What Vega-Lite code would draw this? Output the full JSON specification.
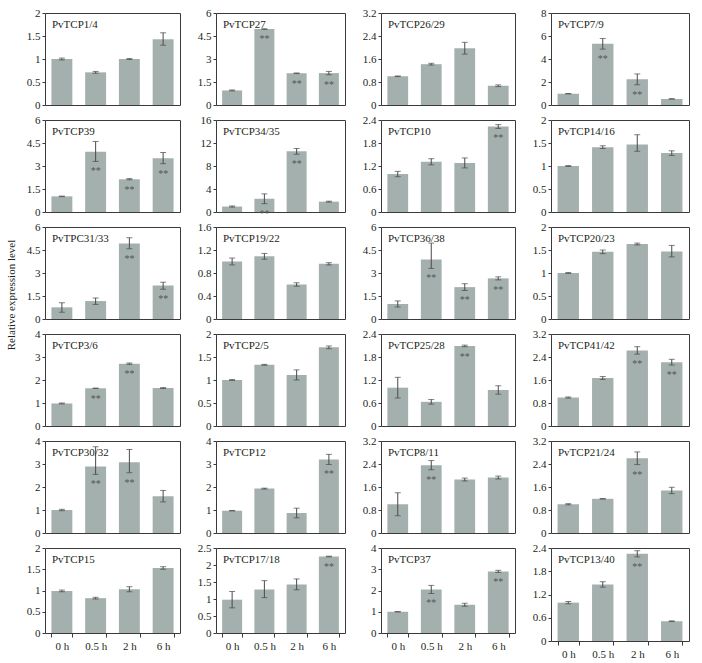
{
"$schema": "https://vega.github.io/schema/vega-lite/v6.json",
"background": "white",
"padding": {"left": 5, "top": 6, "right": 5, "bottom": 5},
"title": {"text": "Relative expression level", "orient": "left", "anchor": "middle", "frame": "bounds", "offset": 9, "dx": 38, "dy": 0, "fontSize": 11, "font": "Liberation Serif", "fontWeight": "normal", "color": "#231f20"},
"datasets": {"expr": [
{"gene":"PvTCP1/4","time":"0 h","value":1.00,"lo":0.98,"hi":1.02,"sig":""},
{"gene":"PvTCP1/4","time":"0.5 h","value":0.71,"lo":0.69,"hi":0.73,"sig":""},
{"gene":"PvTCP1/4","time":"2 h","value":1.00,"lo":0.99,"hi":1.01,"sig":""},
{"gene":"PvTCP1/4","time":"6 h","value":1.43,"lo":1.30,"hi":1.57,"sig":""},
{"gene":"PvTCP27","time":"0 h","value":0.95,"lo":0.92,"hi":0.98,"sig":""},
{"gene":"PvTCP27","time":"0.5 h","value":4.95,"lo":4.93,"hi":4.97,"sig":"**"},
{"gene":"PvTCP27","time":"2 h","value":2.07,"lo":2.05,"hi":2.09,"sig":"**"},
{"gene":"PvTCP27","time":"6 h","value":2.08,"lo":1.97,"hi":2.19,"sig":"**"},
{"gene":"PvTCP26/29","time":"0 h","value":1.00,"lo":0.99,"hi":1.01,"sig":""},
{"gene":"PvTCP26/29","time":"0.5 h","value":1.42,"lo":1.39,"hi":1.45,"sig":""},
{"gene":"PvTCP26/29","time":"2 h","value":1.97,"lo":1.77,"hi":2.18,"sig":""},
{"gene":"PvTCP26/29","time":"6 h","value":0.67,"lo":0.64,"hi":0.70,"sig":""},
{"gene":"PvTCP7/9","time":"0 h","value":0.98,"lo":0.96,"hi":1.00,"sig":""},
{"gene":"PvTCP7/9","time":"0.5 h","value":5.32,"lo":4.86,"hi":5.78,"sig":"**"},
{"gene":"PvTCP7/9","time":"2 h","value":2.24,"lo":1.76,"hi":2.70,"sig":"**"},
{"gene":"PvTCP7/9","time":"6 h","value":0.53,"lo":0.51,"hi":0.55,"sig":""},
{"gene":"PvTCP39","time":"0 h","value":1.02,"lo":1.00,"hi":1.04,"sig":""},
{"gene":"PvTCP39","time":"0.5 h","value":3.93,"lo":3.30,"hi":4.60,"sig":"**"},
{"gene":"PvTCP39","time":"2 h","value":2.14,"lo":2.10,"hi":2.18,"sig":"**"},
{"gene":"PvTCP39","time":"6 h","value":3.50,"lo":3.15,"hi":3.88,"sig":"**"},
{"gene":"PvTCP34/35","time":"0 h","value":0.95,"lo":0.85,"hi":1.05,"sig":""},
{"gene":"PvTCP34/35","time":"0.5 h","value":2.30,"lo":1.45,"hi":3.15,"sig":"**"},
{"gene":"PvTCP34/35","time":"2 h","value":10.55,"lo":10.05,"hi":11.05,"sig":"**"},
{"gene":"PvTCP34/35","time":"6 h","value":1.80,"lo":1.72,"hi":1.88,"sig":""},
{"gene":"PvTCP10","time":"0 h","value":0.99,"lo":0.92,"hi":1.06,"sig":""},
{"gene":"PvTCP10","time":"0.5 h","value":1.31,"lo":1.23,"hi":1.39,"sig":""},
{"gene":"PvTCP10","time":"2 h","value":1.28,"lo":1.15,"hi":1.41,"sig":""},
{"gene":"PvTCP10","time":"6 h","value":2.23,"lo":2.18,"hi":2.28,"sig":"**"},
{"gene":"PvTCP14/16","time":"0 h","value":1.00,"lo":0.99,"hi":1.01,"sig":""},
{"gene":"PvTCP14/16","time":"0.5 h","value":1.41,"lo":1.38,"hi":1.44,"sig":""},
{"gene":"PvTCP14/16","time":"2 h","value":1.47,"lo":1.32,"hi":1.68,"sig":""},
{"gene":"PvTCP14/16","time":"6 h","value":1.28,"lo":1.23,"hi":1.33,"sig":""},
{"gene":"PvTPC31/33","time":"0 h","value":0.76,"lo":0.44,"hi":1.06,"sig":""},
{"gene":"PvTPC31/33","time":"0.5 h","value":1.17,"lo":0.95,"hi":1.37,"sig":""},
{"gene":"PvTPC31/33","time":"2 h","value":4.92,"lo":4.58,"hi":5.30,"sig":"**"},
{"gene":"PvTPC31/33","time":"6 h","value":2.18,"lo":1.94,"hi":2.40,"sig":"**"},
{"gene":"PvTCP19/22","time":"0 h","value":1.00,"lo":0.94,"hi":1.06,"sig":""},
{"gene":"PvTCP19/22","time":"0.5 h","value":1.09,"lo":1.04,"hi":1.14,"sig":""},
{"gene":"PvTCP19/22","time":"2 h","value":0.60,"lo":0.57,"hi":0.63,"sig":""},
{"gene":"PvTCP19/22","time":"6 h","value":0.96,"lo":0.94,"hi":0.98,"sig":""},
{"gene":"PvTCP36/38","time":"0 h","value":0.98,"lo":0.78,"hi":1.18,"sig":""},
{"gene":"PvTCP36/38","time":"0.5 h","value":3.88,"lo":3.30,"hi":4.95,"sig":"**"},
{"gene":"PvTCP36/38","time":"2 h","value":2.08,"lo":1.86,"hi":2.30,"sig":"**"},
{"gene":"PvTCP36/38","time":"6 h","value":2.65,"lo":2.55,"hi":2.75,"sig":"**"},
{"gene":"PvTCP20/23","time":"0 h","value":1.00,"lo":0.99,"hi":1.01,"sig":""},
{"gene":"PvTCP20/23","time":"0.5 h","value":1.46,"lo":1.42,"hi":1.50,"sig":""},
{"gene":"PvTCP20/23","time":"2 h","value":1.63,"lo":1.61,"hi":1.65,"sig":""},
{"gene":"PvTCP20/23","time":"6 h","value":1.47,"lo":1.35,"hi":1.60,"sig":""},
{"gene":"PvTCP3/6","time":"0 h","value":0.98,"lo":0.96,"hi":1.00,"sig":""},
{"gene":"PvTCP3/6","time":"0.5 h","value":1.64,"lo":1.63,"hi":1.65,"sig":"**"},
{"gene":"PvTCP3/6","time":"2 h","value":2.71,"lo":2.68,"hi":2.74,"sig":"**"},
{"gene":"PvTCP3/6","time":"6 h","value":1.65,"lo":1.63,"hi":1.67,"sig":""},
{"gene":"PvTCP2/5","time":"0 h","value":1.00,"lo":0.99,"hi":1.01,"sig":""},
{"gene":"PvTCP2/5","time":"0.5 h","value":1.33,"lo":1.32,"hi":1.34,"sig":""},
{"gene":"PvTCP2/5","time":"2 h","value":1.11,"lo":1.00,"hi":1.22,"sig":""},
{"gene":"PvTCP2/5","time":"6 h","value":1.71,"lo":1.68,"hi":1.74,"sig":""},
{"gene":"PvTCP25/28","time":"0 h","value":1.00,"lo":0.73,"hi":1.27,"sig":""},
{"gene":"PvTCP25/28","time":"0.5 h","value":0.63,"lo":0.57,"hi":0.69,"sig":""},
{"gene":"PvTCP25/28","time":"2 h","value":2.09,"lo":2.07,"hi":2.11,"sig":"**"},
{"gene":"PvTCP25/28","time":"6 h","value":0.94,"lo":0.83,"hi":1.05,"sig":""},
{"gene":"PvTCP41/42","time":"0 h","value":0.99,"lo":0.97,"hi":1.01,"sig":""},
{"gene":"PvTCP41/42","time":"0.5 h","value":1.67,"lo":1.62,"hi":1.72,"sig":""},
{"gene":"PvTCP41/42","time":"2 h","value":2.63,"lo":2.50,"hi":2.76,"sig":"**"},
{"gene":"PvTCP41/42","time":"6 h","value":2.22,"lo":2.12,"hi":2.32,"sig":"**"},
{"gene":"PvTCP30/32","time":"0 h","value":1.00,"lo":0.97,"hi":1.03,"sig":""},
{"gene":"PvTCP30/32","time":"0.5 h","value":2.89,"lo":2.55,"hi":3.75,"sig":"**"},
{"gene":"PvTCP30/32","time":"2 h","value":3.08,"lo":2.62,"hi":3.63,"sig":"**"},
{"gene":"PvTCP30/32","time":"6 h","value":1.60,"lo":1.35,"hi":1.85,"sig":""},
{"gene":"PvTCP12","time":"0 h","value":0.97,"lo":0.96,"hi":0.98,"sig":""},
{"gene":"PvTCP12","time":"0.5 h","value":1.93,"lo":1.91,"hi":1.95,"sig":""},
{"gene":"PvTCP12","time":"2 h","value":0.87,"lo":0.66,"hi":1.08,"sig":""},
{"gene":"PvTCP12","time":"6 h","value":3.20,"lo":2.98,"hi":3.42,"sig":"**"},
{"gene":"PvTCP8/11","time":"0 h","value":1.00,"lo":0.60,"hi":1.40,"sig":""},
{"gene":"PvTCP8/11","time":"0.5 h","value":2.36,"lo":2.20,"hi":2.52,"sig":"**"},
{"gene":"PvTCP8/11","time":"2 h","value":1.86,"lo":1.81,"hi":1.91,"sig":""},
{"gene":"PvTCP8/11","time":"6 h","value":1.93,"lo":1.88,"hi":1.98,"sig":""},
{"gene":"PvTCP21/24","time":"0 h","value":1.00,"lo":0.98,"hi":1.02,"sig":""},
{"gene":"PvTCP21/24","time":"0.5 h","value":1.19,"lo":1.18,"hi":1.20,"sig":""},
{"gene":"PvTCP21/24","time":"2 h","value":2.60,"lo":2.38,"hi":2.82,"sig":"**"},
{"gene":"PvTCP21/24","time":"6 h","value":1.48,"lo":1.37,"hi":1.59,"sig":""},
{"gene":"PvTCP15","time":"0 h","value":0.99,"lo":0.97,"hi":1.01,"sig":""},
{"gene":"PvTCP15","time":"0.5 h","value":0.82,"lo":0.80,"hi":0.84,"sig":""},
{"gene":"PvTCP15","time":"2 h","value":1.03,"lo":0.97,"hi":1.09,"sig":""},
{"gene":"PvTCP15","time":"6 h","value":1.53,"lo":1.50,"hi":1.56,"sig":""},
{"gene":"PvTCP17/18","time":"0 h","value":0.98,"lo":0.74,"hi":1.22,"sig":""},
{"gene":"PvTCP17/18","time":"0.5 h","value":1.28,"lo":1.04,"hi":1.54,"sig":""},
{"gene":"PvTCP17/18","time":"2 h","value":1.43,"lo":1.27,"hi":1.59,"sig":""},
{"gene":"PvTCP17/18","time":"6 h","value":2.25,"lo":2.24,"hi":2.26,"sig":"**"},
{"gene":"PvTCP37","time":"0 h","value":1.00,"lo":0.99,"hi":1.01,"sig":""},
{"gene":"PvTCP37","time":"0.5 h","value":2.05,"lo":1.86,"hi":2.24,"sig":"**"},
{"gene":"PvTCP37","time":"2 h","value":1.33,"lo":1.26,"hi":1.40,"sig":""},
{"gene":"PvTCP37","time":"6 h","value":2.90,"lo":2.85,"hi":2.95,"sig":"**"},
{"gene":"PvTCP13/40","time":"0 h","value":0.99,"lo":0.96,"hi":1.02,"sig":""},
{"gene":"PvTCP13/40","time":"0.5 h","value":1.46,"lo":1.39,"hi":1.53,"sig":""},
{"gene":"PvTCP13/40","time":"2 h","value":2.25,"lo":2.17,"hi":2.33,"sig":"**"},
{"gene":"PvTCP13/40","time":"6 h","value":0.51,"lo":0.50,"hi":0.52,"sig":""}
]},
"data": {"name": "expr"},
"columns": 4,
"spacing": {"row": 15, "column": 36},
"bounds": "flush",
"concat": [
{"width":135,"height":92,"title":{"text":"PvTCP1/4"},"transform":[{"filter":{"field":"gene","equal":"PvTCP1/4"}}],"encoding":{"x":{"field":"time","type":"nominal","sort":["0 h","0.5 h","2 h","6 h"],"title":null,"axis":null}},"resolve":{"axis":{"y":"independent"}},"layer":[{"mark":"bar","encoding":{"y":{"field":"value","type":"quantitative","title":null,"scale":{"domain":[0,2],"nice":false},"axis":{"values":[0,0.5,1,1.5,2],"format":".2~f"}}}},{"mark":{"type":"errorbar","ticks":{"size":6},"color":"#4a4a4a"},"encoding":{"y":{"field":"lo","type":"quantitative","title":null,"axis":null},"y2":{"field":"hi"}}},{"mark":"text","encoding":{"y":{"field":"lo","type":"quantitative","title":null,"axis":null},"text":{"field":"sig"}}}]},
{"width":129,"height":92,"title":{"text":"PvTCP27"},"transform":[{"filter":{"field":"gene","equal":"PvTCP27"}}],"encoding":{"x":{"field":"time","type":"nominal","sort":["0 h","0.5 h","2 h","6 h"],"title":null,"axis":null}},"resolve":{"axis":{"y":"independent"}},"layer":[{"mark":"bar","encoding":{"y":{"field":"value","type":"quantitative","title":null,"scale":{"domain":[0,6],"nice":false},"axis":{"values":[0,1.5,3,4.5,6],"format":".2~f"}}}},{"mark":{"type":"errorbar","ticks":{"size":6},"color":"#4a4a4a"},"encoding":{"y":{"field":"lo","type":"quantitative","title":null,"axis":null},"y2":{"field":"hi"}}},{"mark":"text","encoding":{"y":{"field":"lo","type":"quantitative","title":null,"axis":null},"text":{"field":"sig"}}}]},
{"width":134,"height":92,"title":{"text":"PvTCP26/29"},"transform":[{"filter":{"field":"gene","equal":"PvTCP26/29"}}],"encoding":{"x":{"field":"time","type":"nominal","sort":["0 h","0.5 h","2 h","6 h"],"title":null,"axis":null}},"resolve":{"axis":{"y":"independent"}},"layer":[{"mark":"bar","encoding":{"y":{"field":"value","type":"quantitative","title":null,"scale":{"domain":[0,3.2],"nice":false},"axis":{"values":[0,0.8,1.6,2.4,3.2],"format":".2~f"}}}},{"mark":{"type":"errorbar","ticks":{"size":6},"color":"#4a4a4a"},"encoding":{"y":{"field":"lo","type":"quantitative","title":null,"axis":null},"y2":{"field":"hi"}}},{"mark":"text","encoding":{"y":{"field":"lo","type":"quantitative","title":null,"axis":null},"text":{"field":"sig"}}}]},
{"width":138,"height":92,"title":{"text":"PvTCP7/9"},"transform":[{"filter":{"field":"gene","equal":"PvTCP7/9"}}],"encoding":{"x":{"field":"time","type":"nominal","sort":["0 h","0.5 h","2 h","6 h"],"title":null,"axis":null}},"resolve":{"axis":{"y":"independent"}},"layer":[{"mark":"bar","encoding":{"y":{"field":"value","type":"quantitative","title":null,"scale":{"domain":[0,8],"nice":false},"axis":{"values":[0,2,4,6,8],"format":".2~f"}}}},{"mark":{"type":"errorbar","ticks":{"size":6},"color":"#4a4a4a"},"encoding":{"y":{"field":"lo","type":"quantitative","title":null,"axis":null},"y2":{"field":"hi"}}},{"mark":"text","encoding":{"y":{"field":"lo","type":"quantitative","title":null,"axis":null},"text":{"field":"sig"}}}]},
{"width":135,"height":92,"title":{"text":"PvTCP39"},"transform":[{"filter":{"field":"gene","equal":"PvTCP39"}}],"encoding":{"x":{"field":"time","type":"nominal","sort":["0 h","0.5 h","2 h","6 h"],"title":null,"axis":null}},"resolve":{"axis":{"y":"independent"}},"layer":[{"mark":"bar","encoding":{"y":{"field":"value","type":"quantitative","title":null,"scale":{"domain":[0,6],"nice":false},"axis":{"values":[0,1.5,3,4.5,6],"format":".2~f"}}}},{"mark":{"type":"errorbar","ticks":{"size":6},"color":"#4a4a4a"},"encoding":{"y":{"field":"lo","type":"quantitative","title":null,"axis":null},"y2":{"field":"hi"}}},{"mark":"text","encoding":{"y":{"field":"lo","type":"quantitative","title":null,"axis":null},"text":{"field":"sig"}}}]},
{"width":129,"height":92,"title":{"text":"PvTCP34/35"},"transform":[{"filter":{"field":"gene","equal":"PvTCP34/35"}}],"encoding":{"x":{"field":"time","type":"nominal","sort":["0 h","0.5 h","2 h","6 h"],"title":null,"axis":null}},"resolve":{"axis":{"y":"independent"}},"layer":[{"mark":"bar","encoding":{"y":{"field":"value","type":"quantitative","title":null,"scale":{"domain":[0,16],"nice":false},"axis":{"values":[0,4,8,12,16],"format":".2~f"}}}},{"mark":{"type":"errorbar","ticks":{"size":6},"color":"#4a4a4a"},"encoding":{"y":{"field":"lo","type":"quantitative","title":null,"axis":null},"y2":{"field":"hi"}}},{"mark":"text","encoding":{"y":{"field":"lo","type":"quantitative","title":null,"axis":null},"text":{"field":"sig"}}}]},
{"width":134,"height":92,"title":{"text":"PvTCP10"},"transform":[{"filter":{"field":"gene","equal":"PvTCP10"}}],"encoding":{"x":{"field":"time","type":"nominal","sort":["0 h","0.5 h","2 h","6 h"],"title":null,"axis":null}},"resolve":{"axis":{"y":"independent"}},"layer":[{"mark":"bar","encoding":{"y":{"field":"value","type":"quantitative","title":null,"scale":{"domain":[0,2.4],"nice":false},"axis":{"values":[0,0.6,1.2,1.8,2.4],"format":".2~f"}}}},{"mark":{"type":"errorbar","ticks":{"size":6},"color":"#4a4a4a"},"encoding":{"y":{"field":"lo","type":"quantitative","title":null,"axis":null},"y2":{"field":"hi"}}},{"mark":"text","encoding":{"y":{"field":"lo","type":"quantitative","title":null,"axis":null},"text":{"field":"sig"}}}]},
{"width":138,"height":92,"title":{"text":"PvTCP14/16"},"transform":[{"filter":{"field":"gene","equal":"PvTCP14/16"}}],"encoding":{"x":{"field":"time","type":"nominal","sort":["0 h","0.5 h","2 h","6 h"],"title":null,"axis":null}},"resolve":{"axis":{"y":"independent"}},"layer":[{"mark":"bar","encoding":{"y":{"field":"value","type":"quantitative","title":null,"scale":{"domain":[0,2],"nice":false},"axis":{"values":[0,0.5,1,1.5,2],"format":".2~f"}}}},{"mark":{"type":"errorbar","ticks":{"size":6},"color":"#4a4a4a"},"encoding":{"y":{"field":"lo","type":"quantitative","title":null,"axis":null},"y2":{"field":"hi"}}},{"mark":"text","encoding":{"y":{"field":"lo","type":"quantitative","title":null,"axis":null},"text":{"field":"sig"}}}]},
{"width":135,"height":92,"title":{"text":"PvTPC31/33"},"transform":[{"filter":{"field":"gene","equal":"PvTPC31/33"}}],"encoding":{"x":{"field":"time","type":"nominal","sort":["0 h","0.5 h","2 h","6 h"],"title":null,"axis":null}},"resolve":{"axis":{"y":"independent"}},"layer":[{"mark":"bar","encoding":{"y":{"field":"value","type":"quantitative","title":null,"scale":{"domain":[0,6],"nice":false},"axis":{"values":[0,1.5,3,4.5,6],"format":".2~f"}}}},{"mark":{"type":"errorbar","ticks":{"size":6},"color":"#4a4a4a"},"encoding":{"y":{"field":"lo","type":"quantitative","title":null,"axis":null},"y2":{"field":"hi"}}},{"mark":"text","encoding":{"y":{"field":"lo","type":"quantitative","title":null,"axis":null},"text":{"field":"sig"}}}]},
{"width":129,"height":92,"title":{"text":"PvTCP19/22"},"transform":[{"filter":{"field":"gene","equal":"PvTCP19/22"}}],"encoding":{"x":{"field":"time","type":"nominal","sort":["0 h","0.5 h","2 h","6 h"],"title":null,"axis":null}},"resolve":{"axis":{"y":"independent"}},"layer":[{"mark":"bar","encoding":{"y":{"field":"value","type":"quantitative","title":null,"scale":{"domain":[0,1.6],"nice":false},"axis":{"values":[0,0.4,0.8,1.2,1.6],"format":".2~f"}}}},{"mark":{"type":"errorbar","ticks":{"size":6},"color":"#4a4a4a"},"encoding":{"y":{"field":"lo","type":"quantitative","title":null,"axis":null},"y2":{"field":"hi"}}},{"mark":"text","encoding":{"y":{"field":"lo","type":"quantitative","title":null,"axis":null},"text":{"field":"sig"}}}]},
{"width":134,"height":92,"title":{"text":"PvTCP36/38"},"transform":[{"filter":{"field":"gene","equal":"PvTCP36/38"}}],"encoding":{"x":{"field":"time","type":"nominal","sort":["0 h","0.5 h","2 h","6 h"],"title":null,"axis":null}},"resolve":{"axis":{"y":"independent"}},"layer":[{"mark":"bar","encoding":{"y":{"field":"value","type":"quantitative","title":null,"scale":{"domain":[0,6],"nice":false},"axis":{"values":[0,1.5,3,4.5,6],"format":".2~f"}}}},{"mark":{"type":"errorbar","ticks":{"size":6},"color":"#4a4a4a"},"encoding":{"y":{"field":"lo","type":"quantitative","title":null,"axis":null},"y2":{"field":"hi"}}},{"mark":"text","encoding":{"y":{"field":"lo","type":"quantitative","title":null,"axis":null},"text":{"field":"sig"}}}]},
{"width":138,"height":92,"title":{"text":"PvTCP20/23"},"transform":[{"filter":{"field":"gene","equal":"PvTCP20/23"}}],"encoding":{"x":{"field":"time","type":"nominal","sort":["0 h","0.5 h","2 h","6 h"],"title":null,"axis":null}},"resolve":{"axis":{"y":"independent"}},"layer":[{"mark":"bar","encoding":{"y":{"field":"value","type":"quantitative","title":null,"scale":{"domain":[0,2],"nice":false},"axis":{"values":[0,0.5,1,1.5,2],"format":".2~f"}}}},{"mark":{"type":"errorbar","ticks":{"size":6},"color":"#4a4a4a"},"encoding":{"y":{"field":"lo","type":"quantitative","title":null,"axis":null},"y2":{"field":"hi"}}},{"mark":"text","encoding":{"y":{"field":"lo","type":"quantitative","title":null,"axis":null},"text":{"field":"sig"}}}]},
{"width":135,"height":92,"title":{"text":"PvTCP3/6"},"transform":[{"filter":{"field":"gene","equal":"PvTCP3/6"}}],"encoding":{"x":{"field":"time","type":"nominal","sort":["0 h","0.5 h","2 h","6 h"],"title":null,"axis":null}},"resolve":{"axis":{"y":"independent"}},"layer":[{"mark":"bar","encoding":{"y":{"field":"value","type":"quantitative","title":null,"scale":{"domain":[0,4],"nice":false},"axis":{"values":[0,1,2,3,4],"format":".2~f"}}}},{"mark":{"type":"errorbar","ticks":{"size":6},"color":"#4a4a4a"},"encoding":{"y":{"field":"lo","type":"quantitative","title":null,"axis":null},"y2":{"field":"hi"}}},{"mark":"text","encoding":{"y":{"field":"lo","type":"quantitative","title":null,"axis":null},"text":{"field":"sig"}}}]},
{"width":129,"height":92,"title":{"text":"PvTCP2/5"},"transform":[{"filter":{"field":"gene","equal":"PvTCP2/5"}}],"encoding":{"x":{"field":"time","type":"nominal","sort":["0 h","0.5 h","2 h","6 h"],"title":null,"axis":null}},"resolve":{"axis":{"y":"independent"}},"layer":[{"mark":"bar","encoding":{"y":{"field":"value","type":"quantitative","title":null,"scale":{"domain":[0,2],"nice":false},"axis":{"values":[0,0.5,1,1.5,2],"format":".2~f"}}}},{"mark":{"type":"errorbar","ticks":{"size":6},"color":"#4a4a4a"},"encoding":{"y":{"field":"lo","type":"quantitative","title":null,"axis":null},"y2":{"field":"hi"}}},{"mark":"text","encoding":{"y":{"field":"lo","type":"quantitative","title":null,"axis":null},"text":{"field":"sig"}}}]},
{"width":134,"height":92,"title":{"text":"PvTCP25/28"},"transform":[{"filter":{"field":"gene","equal":"PvTCP25/28"}}],"encoding":{"x":{"field":"time","type":"nominal","sort":["0 h","0.5 h","2 h","6 h"],"title":null,"axis":null}},"resolve":{"axis":{"y":"independent"}},"layer":[{"mark":"bar","encoding":{"y":{"field":"value","type":"quantitative","title":null,"scale":{"domain":[0,2.4],"nice":false},"axis":{"values":[0,0.6,1.2,1.8,2.4],"format":".2~f"}}}},{"mark":{"type":"errorbar","ticks":{"size":6},"color":"#4a4a4a"},"encoding":{"y":{"field":"lo","type":"quantitative","title":null,"axis":null},"y2":{"field":"hi"}}},{"mark":"text","encoding":{"y":{"field":"lo","type":"quantitative","title":null,"axis":null},"text":{"field":"sig"}}}]},
{"width":138,"height":92,"title":{"text":"PvTCP41/42"},"transform":[{"filter":{"field":"gene","equal":"PvTCP41/42"}}],"encoding":{"x":{"field":"time","type":"nominal","sort":["0 h","0.5 h","2 h","6 h"],"title":null,"axis":null}},"resolve":{"axis":{"y":"independent"}},"layer":[{"mark":"bar","encoding":{"y":{"field":"value","type":"quantitative","title":null,"scale":{"domain":[0,3.2],"nice":false},"axis":{"values":[0,0.8,1.6,2.4,3.2],"format":".2~f"}}}},{"mark":{"type":"errorbar","ticks":{"size":6},"color":"#4a4a4a"},"encoding":{"y":{"field":"lo","type":"quantitative","title":null,"axis":null},"y2":{"field":"hi"}}},{"mark":"text","encoding":{"y":{"field":"lo","type":"quantitative","title":null,"axis":null},"text":{"field":"sig"}}}]},
{"width":135,"height":92,"title":{"text":"PvTCP30/32"},"transform":[{"filter":{"field":"gene","equal":"PvTCP30/32"}}],"encoding":{"x":{"field":"time","type":"nominal","sort":["0 h","0.5 h","2 h","6 h"],"title":null,"axis":null}},"resolve":{"axis":{"y":"independent"}},"layer":[{"mark":"bar","encoding":{"y":{"field":"value","type":"quantitative","title":null,"scale":{"domain":[0,4],"nice":false},"axis":{"values":[0,1,2,3,4],"format":".2~f"}}}},{"mark":{"type":"errorbar","ticks":{"size":6},"color":"#4a4a4a"},"encoding":{"y":{"field":"lo","type":"quantitative","title":null,"axis":null},"y2":{"field":"hi"}}},{"mark":"text","encoding":{"y":{"field":"lo","type":"quantitative","title":null,"axis":null},"text":{"field":"sig"}}}]},
{"width":129,"height":92,"title":{"text":"PvTCP12"},"transform":[{"filter":{"field":"gene","equal":"PvTCP12"}}],"encoding":{"x":{"field":"time","type":"nominal","sort":["0 h","0.5 h","2 h","6 h"],"title":null,"axis":null}},"resolve":{"axis":{"y":"independent"}},"layer":[{"mark":"bar","encoding":{"y":{"field":"value","type":"quantitative","title":null,"scale":{"domain":[0,4],"nice":false},"axis":{"values":[0,1,2,3,4],"format":".2~f"}}}},{"mark":{"type":"errorbar","ticks":{"size":6},"color":"#4a4a4a"},"encoding":{"y":{"field":"lo","type":"quantitative","title":null,"axis":null},"y2":{"field":"hi"}}},{"mark":"text","encoding":{"y":{"field":"lo","type":"quantitative","title":null,"axis":null},"text":{"field":"sig"}}}]},
{"width":134,"height":92,"title":{"text":"PvTCP8/11"},"transform":[{"filter":{"field":"gene","equal":"PvTCP8/11"}}],"encoding":{"x":{"field":"time","type":"nominal","sort":["0 h","0.5 h","2 h","6 h"],"title":null,"axis":null}},"resolve":{"axis":{"y":"independent"}},"layer":[{"mark":"bar","encoding":{"y":{"field":"value","type":"quantitative","title":null,"scale":{"domain":[0,3.2],"nice":false},"axis":{"values":[0,0.8,1.6,2.4,3.2],"format":".2~f"}}}},{"mark":{"type":"errorbar","ticks":{"size":6},"color":"#4a4a4a"},"encoding":{"y":{"field":"lo","type":"quantitative","title":null,"axis":null},"y2":{"field":"hi"}}},{"mark":"text","encoding":{"y":{"field":"lo","type":"quantitative","title":null,"axis":null},"text":{"field":"sig"}}}]},
{"width":138,"height":92,"title":{"text":"PvTCP21/24"},"transform":[{"filter":{"field":"gene","equal":"PvTCP21/24"}}],"encoding":{"x":{"field":"time","type":"nominal","sort":["0 h","0.5 h","2 h","6 h"],"title":null,"axis":null}},"resolve":{"axis":{"y":"independent"}},"layer":[{"mark":"bar","encoding":{"y":{"field":"value","type":"quantitative","title":null,"scale":{"domain":[0,3.2],"nice":false},"axis":{"values":[0,0.8,1.6,2.4,3.2],"format":".2~f"}}}},{"mark":{"type":"errorbar","ticks":{"size":6},"color":"#4a4a4a"},"encoding":{"y":{"field":"lo","type":"quantitative","title":null,"axis":null},"y2":{"field":"hi"}}},{"mark":"text","encoding":{"y":{"field":"lo","type":"quantitative","title":null,"axis":null},"text":{"field":"sig"}}}]},
{"width":135,"height":85,"title":{"text":"PvTCP15"},"transform":[{"filter":{"field":"gene","equal":"PvTCP15"}}],"encoding":{"x":{"field":"time","type":"nominal","sort":["0 h","0.5 h","2 h","6 h"],"title":null,"axis":{"tickBand":"extent","labelAngle":0,"tickSize":4,"labelPadding":3}}},"resolve":{"axis":{"y":"independent"}},"layer":[{"mark":"bar","encoding":{"y":{"field":"value","type":"quantitative","title":null,"scale":{"domain":[0,2],"nice":false},"axis":{"values":[0,0.5,1,1.5,2],"format":".2~f"}}}},{"mark":{"type":"errorbar","ticks":{"size":6},"color":"#4a4a4a"},"encoding":{"y":{"field":"lo","type":"quantitative","title":null,"axis":null},"y2":{"field":"hi"}}},{"mark":"text","encoding":{"y":{"field":"lo","type":"quantitative","title":null,"axis":null},"text":{"field":"sig"}}}]},
{"width":129,"height":85,"title":{"text":"PvTCP17/18"},"transform":[{"filter":{"field":"gene","equal":"PvTCP17/18"}}],"encoding":{"x":{"field":"time","type":"nominal","sort":["0 h","0.5 h","2 h","6 h"],"title":null,"axis":{"tickBand":"extent","labelAngle":0,"tickSize":4,"labelPadding":3}}},"resolve":{"axis":{"y":"independent"}},"layer":[{"mark":"bar","encoding":{"y":{"field":"value","type":"quantitative","title":null,"scale":{"domain":[0,2.5],"nice":false},"axis":{"values":[0,0.5,1,1.5,2,2.5],"format":".2~f"}}}},{"mark":{"type":"errorbar","ticks":{"size":6},"color":"#4a4a4a"},"encoding":{"y":{"field":"lo","type":"quantitative","title":null,"axis":null},"y2":{"field":"hi"}}},{"mark":"text","encoding":{"y":{"field":"lo","type":"quantitative","title":null,"axis":null},"text":{"field":"sig"}}}]},
{"width":134,"height":85,"title":{"text":"PvTCP37"},"transform":[{"filter":{"field":"gene","equal":"PvTCP37"}}],"encoding":{"x":{"field":"time","type":"nominal","sort":["0 h","0.5 h","2 h","6 h"],"title":null,"axis":{"tickBand":"extent","labelAngle":0,"tickSize":4,"labelPadding":3}}},"resolve":{"axis":{"y":"independent"}},"layer":[{"mark":"bar","encoding":{"y":{"field":"value","type":"quantitative","title":null,"scale":{"domain":[0,4],"nice":false},"axis":{"values":[0,1,2,3,4],"format":".2~f"}}}},{"mark":{"type":"errorbar","ticks":{"size":6},"color":"#4a4a4a"},"encoding":{"y":{"field":"lo","type":"quantitative","title":null,"axis":null},"y2":{"field":"hi"}}},{"mark":"text","encoding":{"y":{"field":"lo","type":"quantitative","title":null,"axis":null},"text":{"field":"sig"}}}]},
{"width":138,"height":93,"title":{"text":"PvTCP13/40"},"transform":[{"filter":{"field":"gene","equal":"PvTCP13/40"}}],"encoding":{"x":{"field":"time","type":"nominal","sort":["0 h","0.5 h","2 h","6 h"],"title":null,"axis":{"tickBand":"extent","labelAngle":0,"tickSize":4,"labelPadding":3}}},"resolve":{"axis":{"y":"independent"}},"layer":[{"mark":"bar","encoding":{"y":{"field":"value","type":"quantitative","title":null,"scale":{"domain":[0,2.4],"nice":false},"axis":{"values":[0,0.6,1.2,1.8,2.4],"format":".2~f"}}}},{"mark":{"type":"errorbar","ticks":{"size":6},"color":"#4a4a4a"},"encoding":{"y":{"field":"lo","type":"quantitative","title":null,"axis":null},"y2":{"field":"hi"}}},{"mark":"text","encoding":{"y":{"field":"lo","type":"quantitative","title":null,"axis":null},"text":{"field":"sig"}}}]}
],
"config": {
  "view": {"stroke": "#3a3a3a", "strokeWidth": 1},
  "scale": {"bandPaddingInner": 0.38, "bandPaddingOuter": 0.19},
  "bar": {"color": "#a4b0ae"},
  "text": {"dy": 10, "fontSize": 10, "color": "#555555", "font": "Liberation Serif", "baseline": "middle"},
  "axis": {"labelFont": "Liberation Serif", "labelFontSize": 11, "labelColor": "#231f20", "tickColor": "#3a3a3a", "tickSize": 3, "domain": false, "grid": false, "labelPadding": 2},
  "title": {"anchor": "start", "frame": "group", "font": "Liberation Serif", "fontSize": 11, "fontWeight": "normal", "color": "#231f20", "offset": -23, "dx": 7}
}
}
